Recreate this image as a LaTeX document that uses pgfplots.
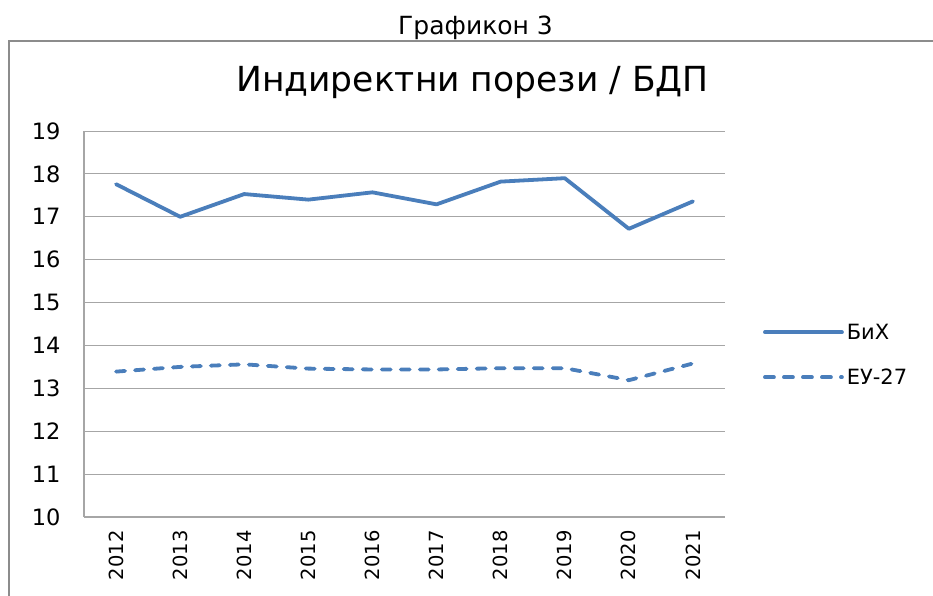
\documentclass[border=0pt]{standalone}
\usepackage{fontspec}
\setmainfont{DejaVu Sans}
\usepackage{pgfplots}
\pgfplotsset{compat=1.18}
\definecolor{serblue}{HTML}{4A7EBB}
\definecolor{gridgray}{HTML}{A6A6A6}
\definecolor{boxgray}{HTML}{8C8C8C}
\begin{document}
\begin{tikzpicture}[x=1pt,y=1pt]
\useasboundingbox (0,0) rectangle (933,-596);
\draw[boxgray, line width=2.6pt] (9,-596) -- (9,-41) -- (933,-41);
\node[font=\fontsize{25}{30}\selectfont, anchor=base] at (475.5,-35) {Графикон 3};
\node[font=\fontsize{34.5}{40}\selectfont, anchor=base] at (472.5,-92) {Индиректни порези / БДП};
\begin{axis}[
  at={(84pt,-517pt)}, anchor=south west,
  width=641pt, height=386pt, scale only axis,
  xmin=-0.5, xmax=9.5, ymin=10, ymax=19,
  xtick={0,...,9},
  xticklabels={2012,2013,2014,2015,2016,2017,2018,2019,2020,2021},
  ytick={10,...,19},
  axis x line=bottom, axis y line=left,
  axis line style={-, gridgray, line width=1.2pt},
  major tick length=0pt,
  ymajorgrids, major grid style={gridgray, line width=1pt},
  x tick label style={rotate=90, anchor=east, font=\fontsize{19.5}{22}\selectfont},
  y tick label style={font=\fontsize{22.5}{26}\selectfont},
  xticklabel shift=10pt, yticklabel shift=20pt,
  /pgf/number format/assume math mode=true,
  legend style={at={(1.059,0.42)}, anchor=west, draw=none, fill=none, inner sep=0pt,
    font=\fontsize{21}{24}\selectfont, row sep=22pt, nodes={inner sep=3pt}},
  legend cell align=left,
  legend image code/.code={\draw[#1] (0pt,0pt) -- (77pt,0pt);},
  clip=false,
]
\addplot[serblue, line width=3.8pt, line join=round, line cap=round] coordinates {
(0,17.76) (1,17.0) (2,17.53) (3,17.40) (4,17.57) (5,17.29) (6,17.82) (7,17.90) (8,16.72) (9,17.36)};
\addlegendentry{БиХ}
\addplot[serblue, line width=3.8pt, line join=round, line cap=round, dash pattern=on 9pt off 10pt] coordinates {
(0,13.39) (1,13.50) (2,13.56) (3,13.46) (4,13.44) (5,13.44) (6,13.47) (7,13.47) (8,13.19) (9,13.58)};
\addlegendentry{ЕУ-27}
\end{axis}
\end{tikzpicture}
\end{document}
